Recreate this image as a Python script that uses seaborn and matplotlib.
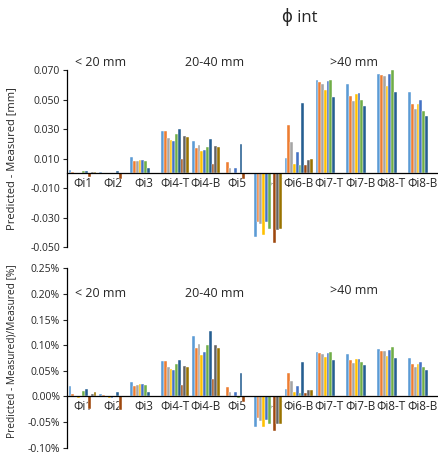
import numpy as np
import pandas as pd
import matplotlib
matplotlib.use("Agg")
import matplotlib.pyplot as plt
import seaborn as sns

sns.set_style("white")
plt.rcParams['font.family'] = ['Open Sans', 'DejaVu Sans']
plt.rcParams['axes.unicode_minus'] = False

nan = np.nan
cats = ['Φi1', 'Φi2', 'Φi3', 'Φi4-T', 'Φi4-B', 'Φi5',
        'Φi6-T', 'Φi6-B', 'Φi7-T', 'Φi7-B', 'Φi8-T', 'Φi8-B']
series = ['S1', 'S2', 'S3', 'S4', 'S5', 'S6', 'S7', 'S8', 'S9', 'S10']
colors = ['#5B9BD5', '#ED7D31', '#A5A5A5', '#FFC000', '#4472C4',
          '#70AD47', '#255E91', '#9E480E', '#636363', '#997300']

# predicted - measured [mm], one row per category, one column per series
diff_mm = [
    [0.0022, 0.0008, 0.0002, 0.0003, 0.0004, 0.0015, 0.0015, -0.0024, 0.0006, 0.0006],
    [0.0006, 0.0003, 0.0002, -0.0003, 0.0002, 0.0002, 0.0015, -0.0042, nan, nan],
    [0.0108, 0.0083, 0.0083, 0.0090, 0.0090, 0.0083, 0.0035, nan, nan, nan],
    [0.0287, 0.0287, 0.0242, 0.0226, 0.0217, 0.0269, 0.0301, 0.0096, 0.0250, 0.0246],
    [0.0217, 0.0174, 0.0190, 0.0151, 0.0160, 0.0178, 0.0233, 0.0062, 0.0185, 0.0176],
    [-0.0004, 0.0076, 0.0033, -0.0008, 0.0035, -0.0008, 0.0196, -0.0042, 0.0005, 0.0005],
    [-0.0431, -0.0330, -0.0345, -0.0422, -0.0330, -0.0380, nan, -0.0470, -0.0388, -0.0380],
    [0.0102, 0.0329, 0.0213, 0.0066, 0.0143, 0.0054, 0.0478, 0.0054, 0.0088, 0.0094],
    [0.0636, 0.0620, 0.0606, 0.0568, 0.0624, 0.0630, 0.0518, nan, nan, nan],
    [0.0606, 0.0524, 0.0490, 0.0536, 0.0547, 0.0495, 0.0459, nan, nan, nan],
    [0.0675, 0.0664, 0.0660, 0.0590, 0.0673, 0.0703, 0.0552, nan, nan, nan],
    [0.0552, 0.0470, 0.0436, 0.0470, 0.0497, 0.0424, 0.0386, nan, nan, nan],
]

# (predicted - measured)/measured [%]
diff_pct = [
    [0.0195, 0.0045, 0.0005, -0.0030, -0.0020, 0.0104, 0.0136, -0.0253, 0.0039, 0.0078],
    [0.0052, 0.0026, 0.0005, -0.0030, -0.0026, 0.0005, 0.0084, -0.0266, nan, nan],
    [0.0286, 0.0208, 0.0220, 0.0240, 0.0240, 0.0214, 0.0084, nan, nan, nan],
    [0.0688, 0.0681, 0.0571, 0.0526, 0.0506, 0.0636, 0.0707, 0.0227, 0.0591, 0.0578],
    [0.1188, 0.0941, 0.1025, 0.0805, 0.0863, 0.1000, 0.1279, 0.0337, 0.1012, 0.0948],
    [-0.0010, 0.0175, 0.0078, -0.0020, 0.0078, -0.0030, 0.0454, -0.0104, 0.0010, 0.0010],
    [-0.0604, -0.0428, -0.0480, -0.0590, -0.0460, -0.0539, nan, -0.0668, -0.0545, -0.0539],
    [0.0136, 0.0454, 0.0299, 0.0084, 0.0195, 0.0065, 0.0662, 0.0065, 0.0117, 0.0123],
    [0.0857, 0.0844, 0.0818, 0.0766, 0.0837, 0.0857, 0.0701, nan, nan, nan],
    [0.0818, 0.0707, 0.0655, 0.0720, 0.0733, 0.0668, 0.0616, nan, nan, nan],
    [0.0915, 0.0889, 0.0883, 0.0785, 0.0902, 0.0954, 0.0740, nan, nan, nan],
    [0.0740, 0.0630, 0.0578, 0.0636, 0.0662, 0.0578, 0.0513, nan, nan, nan],
]

size_groups = ['< 20 mm', '20-40 mm', '>40 mm']


def to_long(table):
    rows = []
    for cat, vals in zip(cats, table):
        for s, v in zip(series, vals):
            rows.append({'cat': cat, 'series': s, 'val': v})
    return pd.DataFrame(rows)


fig = plt.figure(figsize=(4.38, 4.59), dpi=100)
ax1 = fig.add_axes([0.153, 0.4619, 0.846, 0.3854])
ax2 = fig.add_axes([0.153, 0.025, 0.846, 0.3904])


def draw(ax, table, ylim, yticks, fmt, ylabel, label_size, label_y, text_y):
    sns.barplot(data=to_long(table), x='cat', y='val', hue='series',
                order=cats, hue_order=series, palette=colors, width=0.9,
                saturation=1, edgecolor='white', linewidth=0.3,
                legend=False, ax=ax)
    ax.set_xlim(-0.5, len(cats) - 0.5)
    ax.set_ylim(*ylim)
    ax.set_yticks(yticks)
    ax.set_yticklabels([fmt(t) for t in yticks], fontsize=7.5)
    ax.spines['top'].set_visible(False)
    ax.spines['right'].set_visible(False)
    ax.spines['bottom'].set_position(('data', 0))
    ax.spines['bottom'].set_color('black')
    ax.spines['left'].set_color('black')
    ax.spines['bottom'].set_linewidth(0.9)
    ax.spines['left'].set_linewidth(0.9)
    ax.tick_params(axis='y', direction='out', length=3, width=0.8, left=True, pad=2)
    ax.tick_params(axis='x', length=0, labelsize=8.5, pad=3)
    ax.set_xlabel('')
    ax.set_ylabel(ylabel, fontsize=label_size)
    ax.yaxis.set_label_coords(-0.135, label_y)
    for x, lab in zip([0.022, 0.318, 0.71], size_groups):
        ax.text(x, text_y[lab], lab, transform=ax.transAxes, fontsize=9,
                va='center', ha='left', clip_on=False)


draw(ax1, diff_mm, (-0.05, 0.07), [0.07, 0.05, 0.03, 0.01, -0.01, -0.03, -0.05],
     lambda t: f'{t:.3f}', 'Predicted - Measured [mm]', 8, 0.5,
     {'< 20 mm': 1.045, '20-40 mm': 1.045, '>40 mm': 1.045})
draw(ax2, diff_pct, (-0.10, 0.25), [0.25, 0.20, 0.15, 0.10, 0.05, 0.0, -0.05, -0.10],
     lambda t: f'{t:.2f}%', 'Predicted - Measured)/Measured [%]', 7.3, 0.54,
     {'< 20 mm': 0.862, '20-40 mm': 0.862, '>40 mm': 0.879})

fig.text(300 / 438, 1 - 17 / 459, 'ϕ int', fontsize=12, ha='center', va='center')

fig.savefig('out.png', dpi=100)
